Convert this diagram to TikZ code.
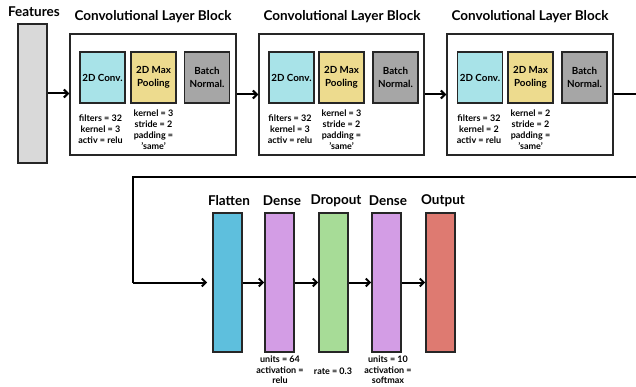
\documentclass[tikz,border=0pt]{standalone}
\usepackage{fontspec}
\setmainfont{Lato}
\usetikzlibrary{arrows.meta}
\definecolor{featc}{HTML}{D9D9D9}
\definecolor{convc}{HTML}{A8E3E8}
\definecolor{poolc}{HTML}{EDDB8E}
\definecolor{bnc}{HTML}{A6A6A6}
\definecolor{flatc}{HTML}{5EBFDD}
\definecolor{densec}{HTML}{D39DE5}
\definecolor{dropc}{HTML}{A7DC97}
\definecolor{outc}{HTML}{DE7A71}
\tikzset{
  box/.style={draw=black!85, line width=1.6pt, minimum width=45pt, minimum height=51pt, inner sep=0pt, align=center, font=\bfseries\fontsize{9.8}{12.5}\selectfont},
  blk/.style={draw=black!85, line width=1.4pt, fill=white, minimum width=166pt, minimum height=121pt, inner sep=0pt},
  bar/.style={draw=black!85, line width=1.6pt, minimum width=29pt, minimum height=139pt, inner sep=0pt},
  title/.style={font=\bfseries\fontsize{13.5}{15}\selectfont, inner sep=0pt},
  small/.style={font=\bfseries\fontsize{9}{11}\selectfont, align=center, inner sep=0pt},
  arr/.style={line width=2pt, -{Straight Barb[length=4pt,width=8pt,line width=2pt]}},
  ln/.style={line width=2pt},
}
\begin{document}
\begin{tikzpicture}[x=1pt,y=-1pt]
\useasboundingbox (0,0) rectangle (636,387);
% Features
\node[bar, fill=featc] (feat) at (32.5,93.5) {};
\node[title] (featt) at (34,12) {Features};
% blocks
\node[blk] (b1) at (153,94.5) {};
\node[blk, minimum width=165pt] (b2) at (341.5,94.5) {};
\node[blk] (b3) at (530,94.5) {};
\node[title] (t1) at (153,17) {Convolutional Layer Block};
\node[title] (t2) at (342,17) {Convolutional Layer Block};
\node[title] (t3) at (530,17) {Convolutional Layer Block};
% block 1
\node[box, fill=convc] (c1) at (102.5,77.5) {2D Conv.};
\node[box, fill=poolc] (p1) at (153.5,77.5) {2D Max\\Pooling};
\node[box, fill=bnc] (n1) at (207,77.5) {Batch\\Normal.};
\node[small] (c1l) at (100.5,129) {filters = 32\\kernel = 3\\activ = relu};
\node[small] (p1l) at (153.5,130) {kernel = 3\\stride = 2\\padding =\\'same'};
% block 2
\node[box, fill=convc] (c2) at (291.5,77.5) {2D Conv.};
\node[box, fill=poolc] (p2) at (341.5,77.5) {2D Max\\Pooling};
\node[box, fill=bnc] (n2) at (395.5,77.5) {Batch\\Normal.};
\node[small] (c2l) at (290,129) {filters = 32\\kernel = 3\\activ = relu};
\node[small] (p2l) at (341.5,130) {kernel = 3\\stride = 2\\padding =\\'same'};
% block 3
\node[box, fill=convc] (c3) at (480,77.5) {2D Conv.};
\node[box, fill=poolc] (p3) at (530.5,77.5) {2D Max\\Pooling};
\node[box, fill=bnc] (n3) at (584.5,77.5) {Batch\\Normal.};
\node[small] (c3l) at (479,129) {filters = 32\\kernel = 2\\activ = relu};
\node[small] (p3l) at (530.5,130) {kernel = 2\\stride = 2\\padding =\\'same'};
% bottom bars
\node[bar, fill=flatc] (fl) at (227.5,282.5) {};
\node[bar, fill=densec] (d1) at (279.5,282.5) {};
\node[bar, fill=dropc] (dr) at (333.5,282.5) {};
\node[bar, fill=densec] (d2) at (386.5,282.5) {};
\node[bar, fill=outc] (out) at (440.5,282.5) {};
\node[title] (flt) at (229,201) {Flatten};
\node[title] (d1t) at (282,201) {Dense};
\node[title] (drt) at (336,201) {Dropout};
\node[title] (d2t) at (388,201) {Dense};
\node[title] (outt) at (443,201) {Output};
\node[small, anchor=north, font=\bfseries\fontsize{9}{10.5}\selectfont] (d1l) at (280,356) {units = 64\\activation =\\relu};
\node[small] (drl) at (333,371) {rate = 0.3};
\node[small, anchor=north, font=\bfseries\fontsize{9}{10.5}\selectfont] (d2l) at (388,356) {units = 10\\activation =\\softmax};
% connectors
\draw[arr] (feat.east) -- (feat.east -| b1.west);
\draw[arr] (b1.east) -- (b2.west);
\draw[arr] (b2.east) -- (b3.west);
\coordinate (k1) at (640,94.5);
\coordinate (k2) at (640,177);
\coordinate (k3) at (133,177);
\coordinate (k4) at (133,282.5);
\draw[ln] (b3.east) -- (k1) -- (k2) -- (k3) -- (k4);
\draw[arr, shorten >=5pt] (k4) -- (fl.west);
\draw[arr] (fl.east) -- (d1.west);
\draw[arr] (d1.east) -- (dr.west);
\draw[arr] (dr.east) -- (d2.west);
\draw[arr] (d2.east) -- (out.west);
\end{tikzpicture}
\end{document}
